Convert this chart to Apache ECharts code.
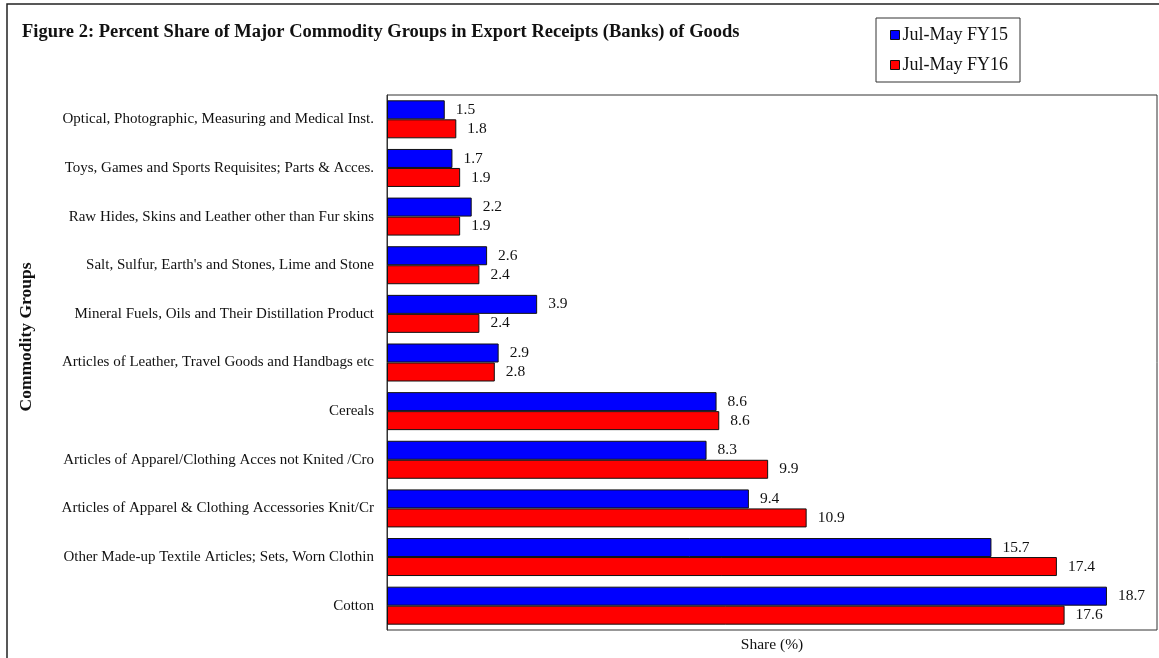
<!DOCTYPE html>
<html><head><meta charset="utf-8">
<script src="https://cdn.jsdelivr.net/npm/echarts@6/dist/echarts.min.js"></script>
<style>html,body{margin:0;padding:0;background:#fff}#c{width:1159px;height:658px}</style>
</head><body><div id="c"></div>
<script>
const categories = [
  "Optical, Photographic, Measuring and Medical Inst.",
  "Toys, Games and Sports Requisites; Parts & Acces.",
  "Raw Hides, Skins and Leather other than Fur skins",
  "Salt, Sulfur, Earth's and Stones, Lime and Stone",
  "Mineral Fuels, Oils and Their Distillation Product",
  "Articles of Leather, Travel Goods and Handbags etc",
  "Cereals",
  "Articles of Apparel/Clothing Acces not Knited /Cro",
  "Articles of Apparel & Clothing Accessories Knit/Cr",
  "Other Made-up Textile Articles; Sets, Worn Clothin",
  "Cotton"
];
const seriesNames = ["Jul-May FY15", "Jul-May FY16"];
const fy15 = [1.5, 1.7, 2.2, 2.6, 3.9, 2.9, 8.56, 8.3, 9.4, 15.7, 18.7];
const fy16 = [1.8, 1.9, 1.9, 2.4, 2.4, 2.8, 8.63, 9.9, 10.9, 17.4, 17.6];
const titleText = "Figure 2: Percent Share of Major Commodity Groups in Export Receipts (Banks) of Goods";
const yAxisTitle = "Commodity Groups";
const xAxisTitle = "Share (%)";

const FONT = "'Liberation Serif','Times New Roman',serif";
const chart = echarts.init(document.getElementById('c'), null, {renderer: 'canvas'});
const mkSeries = (name, data, color) => ({
  name, type: 'bar', data,
  barWidth: 19, barGap: '0%',
  itemStyle: {color, borderColor: '#111', borderWidth: 1},
  label: {show: true, position: 'right', distance: 11, color: '#111',
    fontFamily: FONT, fontSize: 15.5, formatter: p => p.value.toFixed(1)},
  animation: false
});
chart.setOption({
  animation: false,
  backgroundColor: '#fff',
  graphic: [
    {type: 'rect', shape: {x: 7, y: 4, width: 1300, height: 800},
     style: {fill: 'none', stroke: '#222', lineWidth: 1.5}, z: -1},
    {type: 'text', left: 22, top: 23,
     style: {text: titleText, font: "bold 18.5px " + FONT, fill: '#111'}},
    {type: 'text', x: 26, y: 337, rotation: Math.PI / 2,
     style: {text: yAxisTitle, font: "bold 17.5px " + FONT, fill: '#111',
       align: 'center', verticalAlign: 'middle'}}
  ],
  legend: {
    left: 876, top: 18, orient: 'vertical',
    padding: [8, 12, 8, 14], itemGap: 12,
    borderColor: '#333', borderWidth: 1, backgroundColor: '#fff',
    icon: 'rect', itemWidth: 9, itemHeight: 9,
    itemStyle: {borderColor: '#111', borderWidth: 1},
    textStyle: {fontFamily: FONT, fontSize: 18, color: '#111', padding: [0, 0, 0, -2]},
    data: seriesNames
  },
  grid: {left: 387, right: 2, top: 95, bottom: 26, show: true,
    borderColor: '#333', borderWidth: 1, containLabel: false},
  xAxis: {type: 'value', min: 0, max: 20,
    name: xAxisTitle, nameLocation: 'middle', nameGap: 7,
    nameTextStyle: {fontFamily: FONT, fontSize: 15.5, color: '#111'},
    axisLabel: {show: false}, axisTick: {show: false}, splitLine: {show: false},
    axisLine: {show: false}},
  yAxis: {type: 'category', data: categories, inverse: true,
    axisTick: {show: false}, axisLine: {show: true, lineStyle: {color: '#333'}},
    axisLabel: {fontFamily: FONT, fontSize: 15, color: '#111', margin: 13}},
  series: [mkSeries(seriesNames[0], fy15, '#0000FF'), mkSeries(seriesNames[1], fy16, '#FF0000')]
});
</script></body></html>
